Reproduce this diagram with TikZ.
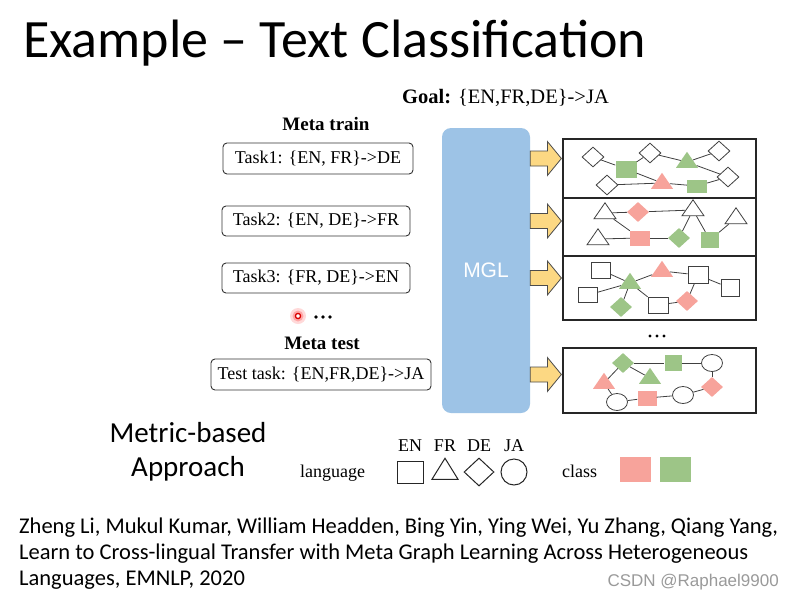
\documentclass[tikz,border=0pt]{standalone}
\usepackage{fontspec}
\setmainfont{Liberation Serif}
\newfontfamily\calfont{Carlito}
\newfontfamily\arialfont{Liberation Sans}
\usetikzlibrary{shapes.geometric,calc,backgrounds}
\definecolor{gfill}{HTML}{9DC587}
\definecolor{rfill}{HTML}{F7A39B}
\definecolor{yfill}{HTML}{FCD883}
\definecolor{bfill}{HTML}{9DC3E6}
\definecolor{edgec}{HTML}{404040}
\definecolor{wmark}{HTML}{9A9A9A}
\tikzset{
  gs/.style={inner sep=0pt, line width=0.8pt, draw=edgec},
  wsq/.style={gs, rectangle, fill=white},
  gsq/.style={rectangle, inner sep=0pt, fill=gfill},
  rsq/.style={rectangle, inner sep=0pt, fill=rfill},
  dia/.style={diamond, inner sep=0pt, minimum width=22pt, minimum height=20pt},
  wdia/.style={gs, dia, fill=white},
  gdia/.style={dia, fill=gfill},
  rdia/.style={dia, fill=rfill},
  tri/.style={isosceles triangle, isosceles triangle stretches, shape border rotate=90, inner sep=0pt, minimum width=22pt, minimum height=16pt},
  wtri/.style={gs, tri, fill=white},
  gtri/.style={tri, fill=gfill},
  rtri/.style={tri, fill=rfill},
  wcirc/.style={gs, ellipse, fill=white, minimum width=21pt, minimum height=17pt},
  gedge/.style={draw=edgec, line width=0.8pt},
  taskbox/.style={draw=black!80, line width=0.9pt, rounded corners=4pt, fill=white, font=\fontsize{18}{20}\selectfont, inner sep=0pt},
  panel/.style={draw=black!85, line width=1.2pt, minimum width=193pt, inner sep=0pt},
  inbar/.style={fill=yfill, draw=black!40, line width=0.4pt},
  outarrow/.style={fill=yfill, draw=black!70, line width=0.8pt},
  legtxt/.style={font=\fontsize{18}{20}\selectfont, anchor=base, inner sep=0pt},
  cittxt/.style={anchor=base west, inner sep=0pt, font=\calfont\fontsize{22.5}{26}\selectfont},
}
\begin{document}
\begin{tikzpicture}[x=1pt,y=-1pt]
\useasboundingbox (0,0) rectangle (793,598);
\fill[white] (0,0) rectangle (793,598);

% title
\node[anchor=base west, inner sep=0pt, font=\calfont\fontsize{54}{64}\selectfont] (title) at (23,57) {Example – Text Classification};

% goal
\node[anchor=base west, inner sep=0pt, font=\fontsize{20.5}{22}\selectfont] (goal) at (402,103) {\textbf{Goal:} \{EN,FR,DE\}->JA};
\node[anchor=base, inner sep=0pt, font=\bfseries\fontsize{19}{22}\selectfont] (mtrain) at (326,130) {Meta train};
\node[anchor=base, inner sep=0pt, font=\bfseries\fontsize{19}{22}\selectfont] (mtest) at (322,349) {Meta test};

% task boxes
\node[taskbox, minimum width=190pt, minimum height=31pt] (t1) at (318,158.5) {Task1: \{EN, FR\}->DE};
\node[taskbox, minimum width=188pt, minimum height=30pt] (t2) at (316,221) {Task2: \{EN, DE\}->FR};
\node[taskbox, minimum width=188pt, minimum height=30pt] (t3) at (316,278) {Task3: \{FR, DE\}->EN};
\node[taskbox, minimum width=220pt, minimum height=31pt] (tt) at (321,374.5) {Test task: \{EN,FR,DE\}->JA};

% dots and laser pointer
\fill (316,317) circle (1.8pt) (323,317) circle (1.8pt) (330,317) circle (1.8pt);
\fill[red!15] (298,316) circle (8pt);
\fill[red!35] (298,316) circle (5.5pt);
\draw[red!85!black, line width=1.3pt, fill=white] (298,316) circle (2.6pt);

% MGL
\node[rounded corners=9pt, fill=bfill, minimum width=88pt, minimum height=285pt, inner sep=0pt,
      font=\arialfont\fontsize{21}{24}\selectfont, text=white] (mgl) at (486,270.5) {MGL};

% panels
\node[panel, minimum height=59pt] (p1) at (659.5,168.5) {};
\node[panel, minimum height=58pt] (p2) at (659.5,227) {};
\node[panel, minimum height=64pt] (p3) at (659.5,288) {};
\node[panel, minimum height=65pt] (p4) at (659.5,380.5) {};
\fill (650,336) circle (1.6pt) (657,336) circle (1.6pt) (664,336) circle (1.6pt);

% input bars
\begin{scope}[on background layer]
\foreach \t in {t1,t2,t3,tt}{
  \draw[inbar] ($(\t.east)+(0,-8.5)$) rectangle ($(mgl.west|-\t.east)+(0,8.5)$);
}
\end{scope}

% output arrows
\foreach \t/\q in {t1/p1,t2/p2,t3/p3,tt/p4}{
  \draw[outarrow] let \p1=(mgl.east|-\t.east), \p2=(\q.west|-\t.east) in
    (\x1,\y1+7.5pt) -- (\x2-15pt,\y1+7.5pt) -- (\x2-15pt,\y1+17pt) -- (\x2-1pt,\y1) --
    (\x2-15pt,\y1-17pt) -- (\x2-15pt,\y1-7.5pt) -- (\x1,\y1-7.5pt) -- cycle;
}

% panel 1
\node[wdia] (a1) at (593,157) {};
\node[gsq, minimum width=21pt, minimum height=17pt] (a2) at (626,169) {};
\node[wdia] (a3) at (650,153) {};
\node[gtri] (a4) at (687,162) {};
\node[wdia] (a5) at (719,151) {};
\node[wdia] (a6) at (728,177) {};
\node[wdia] (a7) at (607,185) {};
\node[rtri] (a8) at (662,183) {};
\node[gsq, minimum width=20pt, minimum height=13pt] (a9) at (697,186) {};
\foreach \u/\v in {a1/a2,a2/a3,a3/a4,a4/a5,a4/a6,a2/a8,a7/a8,a8/a9,a9/a6}
  \draw[gedge] (\u) -- (\v);

% panel 2
\node[wtri] (b1) at (605,213) {};
\node[rdia] (b2) at (638,212) {};
\node[wtri] (b3) at (693,210) {};
\node[wtri] (b4) at (736,218) {};
\node[wtri] (b5) at (598,239) {};
\node[rsq, minimum width=20pt, minimum height=15pt] (b6) at (640,238) {};
\node[gdia] (b7) at (679,238) {};
\node[gsq, minimum width=18pt, minimum height=16pt] (b8) at (710,240) {};
\foreach \u/\v in {b1/b2,b1/b6,b2/b3,b3/b7,b3/b8,b4/b8,b5/b6,b6/b7}
  \draw[gedge] (\u) -- (\v);

% panel 3
\node[wsq, minimum width=19pt, minimum height=16pt] (c1) at (601,270) {};
\node[gtri] (c2) at (630,283) {};
\node[rtri] (c3) at (662,271) {};
\node[wsq, minimum width=20pt, minimum height=17pt] (c4) at (698,275) {};
\node[wsq, minimum width=18pt, minimum height=17pt] (c5) at (730,288) {};
\node[wsq, minimum width=19pt, minimum height=15pt] (c6) at (588,295) {};
\node[gdia] (c7) at (621,307) {};
\node[wsq, minimum width=20pt, minimum height=16pt] (c8) at (658,305) {};
\node[rdia] (c9) at (687,301) {};
\foreach \u/\v in {c1/c2,c2/c3,c3/c4,c4/c5,c4/c9,c6/c2,c2/c7,c2/c8,c8/c9}
  \draw[gedge] (\u) -- (\v);

% panel 4
\node[gdia] (d1) at (623,363) {};
\node[gsq, minimum width=17pt, minimum height=16pt] (d2) at (673,363) {};
\node[wcirc] (d3) at (712,363) {};
\node[rtri] (d4) at (604,383) {};
\node[gtri] (d5) at (650,378) {};
\node[rdia] (d6) at (712,387) {};
\node[wcirc] (d7) at (617,402) {};
\node[rsq, minimum width=19pt, minimum height=15pt] (d8) at (647,398) {};
\node[wcirc] (d9) at (683,395) {};
\foreach \u/\v in {d1/d2,d2/d3,d1/d4,d1/d5,d3/d6,d4/d7,d7/d8,d8/d9,d9/d6}
  \draw[gedge] (\u) -- (\v);

% metric-based
\node[anchor=base, inner sep=0pt, font=\calfont\fontsize{29}{32}\selectfont] (mb1) at (188,442) {Metric-based};
\node[anchor=base, inner sep=0pt, font=\calfont\fontsize{29}{32}\selectfont] (mb2) at (188,476) {Approach};

% legend
\node[legtxt] (len) at (410,451) {EN};
\node[legtxt] (lfr) at (445,451) {FR};
\node[legtxt] (lde) at (479,451) {DE};
\node[legtxt] (lja) at (514,451) {JA};
\node[anchor=base west, inner sep=0pt, font=\fontsize{18}{20}\selectfont] (lang) at (300,477) {language};
\node[draw=black!85, line width=1pt, minimum width=26pt, minimum height=22pt, inner sep=0pt] (lsq) at (410,472) {};
\node[draw=black!85, line width=1pt, tri, minimum width=26pt, minimum height=21pt] (ltri) at (445,472) {};
\node[draw=black!85, line width=1pt, diamond, inner sep=0pt, minimum width=30pt, minimum height=28pt] (ldia) at (479,472) {};
\node[draw=black!85, line width=1pt, circle, inner sep=0pt, minimum size=26pt] (lcirc) at (514,472) {};
\node[anchor=base west, inner sep=0pt, font=\fontsize{18}{20}\selectfont] (cls) at (562,477) {class};
\node[fill=rfill, minimum width=31pt, minimum height=25pt, inner sep=0pt] (cr) at (635.5,469.5) {};
\node[fill=gfill, minimum width=31pt, minimum height=25pt, inner sep=0pt] (cg) at (675.5,469.5) {};

% citation
\node[cittxt] (cit1) at (19,533) {Zheng Li, Mukul Kumar, William Headden, Bing Yin, Ying Wei, Yu Zhang, Qiang Yang,};
\node[cittxt] (cit2) at (19,559) {Learn to Cross-lingual Transfer with Meta Graph Learning Across Heterogeneous};
\node[cittxt] (cit3) at (19,585) {Languages, EMNLP, 2020};
\node[anchor=base east, inner sep=0pt, font=\arialfont\fontsize{17}{18}\selectfont, text=wmark] (wm) at (779,586) {CSDN @Raphael9900};
\end{tikzpicture}
\end{document}
